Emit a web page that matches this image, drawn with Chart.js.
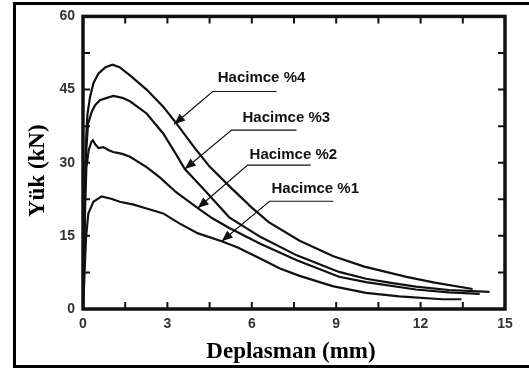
<!DOCTYPE html>
<html>
<head>
<meta charset="utf-8">
<script src="https://cdn.jsdelivr.net/npm/chart.js@4.4.0/dist/chart.umd.min.js"></script>
<style>
  html, body { margin: 0; padding: 0; background: #fff; }
  #wrap { position: relative; width: 529px; height: 368px; overflow: hidden; }
  #frame { position: absolute; left: 13px; top: 2px; width: 600px; height: 366px;
           box-sizing: border-box; border: 3px solid #000; }
  #c { position: absolute; left: 0; top: 0; }
</style>
</head>
<body>
<div id="wrap">
  <div id="frame"></div>
  <canvas id="c" width="529" height="368"></canvas>
</div>
<script>
// Load (kN) vs displacement (mm)
const disp4 = [0, 0.04, 0.08, 0.12, 0.16, 0.25, 0.37, 0.55, 0.8, 1.05, 1.3, 1.67, 2.26, 2.85, 3.3, 4.0, 4.5, 5.2, 6.0, 6.6, 7.7, 8.9, 10.0, 11.5, 12.5, 13.85];
const load4 = [0, 14, 28, 36, 40, 43.5, 46.3, 48.3, 49.6, 50.1, 49.6, 47.9, 45.0, 41.5, 38.2, 32.8, 29.2, 25.2, 20.8, 17.8, 14.0, 10.8, 8.7, 6.6, 5.4, 4.1];

const disp3 = [0, 0.04, 0.08, 0.12, 0.18, 0.31, 0.43, 0.6, 0.85, 1.08, 1.4, 1.67, 2.26, 2.85, 3.3, 3.62, 4.3, 5.2, 6.3, 7.6, 9.1, 10.06, 11.0, 11.83, 13.0, 14.45];
const load3 = [0, 12, 25, 33, 38, 40.4, 41.8, 42.8, 43.3, 43.7, 43.3, 42.6, 40.1, 36.0, 31.8, 28.7, 24.5, 18.8, 14.8, 11.0, 7.6, 6.2, 5.3, 4.6, 3.9, 3.5];

const disp2 = [0, 0.04, 0.08, 0.12, 0.2, 0.3, 0.35, 0.43, 0.55, 0.72, 0.9, 1.07, 1.4, 1.67, 2.26, 2.73, 3.3, 4.08, 4.6, 5.2, 6.3, 7.6, 9.1, 10.06, 11.83, 13.0, 14.1];
const load2 = [0, 10, 22, 29, 32.5, 34.3, 34.6, 33.8, 33.0, 33.2, 32.6, 32.2, 31.8, 31.2, 29.1, 27.0, 24.0, 20.7, 18.6, 16.6, 13.4, 10.0, 6.6, 5.5, 4.0, 3.4, 3.1];

const disp1 = [0, 0.04, 0.08, 0.11, 0.19, 0.37, 0.66, 1.0, 1.31, 1.8, 2.26, 2.85, 3.44, 4.09, 4.93, 5.5, 6.28, 7.0, 7.7, 8.87, 10.06, 11.24, 12.77, 13.45];
const load1 = [0, 5, 11, 14.8, 19.6, 22.0, 23.1, 22.6, 22.0, 21.4, 20.6, 19.6, 17.5, 15.5, 13.9, 12.6, 10.4, 8.3, 6.8, 4.7, 3.3, 2.6, 2.0, 2.0];

// callout labels (data units): text anchor, underline, arrow tip
const noteText  = ['Hacimce %4', 'Hacimce %3', 'Hacimce %2', 'Hacimce %1'];
const noteX     = [4.79, 5.67, 5.92, 6.70];
const noteY     = [47.3, 39.1, 31.7, 24.6];
const lineX0    = [4.61, 5.28, 5.85, 6.63];
const lineX1    = [6.88, 7.59, 8.09, 8.90];
const lineY     = [44.6, 36.7, 29.5, 22.1];
const tipX      = [3.24, 3.62, 4.08, 4.93];
const tipY      = [37.9, 28.7, 20.7, 13.9];

const xTitle = 'Deplasman (mm)';
const yTitle = 'Yük (kN)';

function pts(xs, ys) {
  return xs.map((x, i) => ({ x: x, y: ys[i] }));
}

function isMajor(v, step) {
  return Math.abs(v / step - Math.round(v / step)) < 1e-6;
}

const decor = {
  id: 'decor',
  afterDatasetsDraw(chart) {
    const { ctx, chartArea: a, scales: { x, y } } = chart;
    ctx.save();
    ctx.strokeStyle = '#111';
    ctx.fillStyle = '#111';

    // plot frame
    ctx.lineWidth = 3.5;
    ctx.strokeRect(a.left, a.top, a.right - a.left, a.bottom - a.top);

    // inward ticks on all four sides
    ctx.lineWidth = 2;
    ctx.beginPath();
    x.ticks.forEach(t => {
      const px = x.getPixelForValue(t.value);
      if (px <= a.left + 1 || px >= a.right - 1) return;
      ctx.moveTo(px, a.bottom); ctx.lineTo(px, a.bottom - 7);
      ctx.moveTo(px, a.top); ctx.lineTo(px, a.top + 7);
    });
    y.ticks.forEach(t => {
      const py = y.getPixelForValue(t.value);
      if (py <= a.top + 1 || py >= a.bottom - 1) return;
      ctx.moveTo(a.left, py); ctx.lineTo(a.left + 7, py);
      ctx.moveTo(a.right, py); ctx.lineTo(a.right - 7, py);
    });
    ctx.stroke();

    // callouts
    ctx.font = 'bold 15px "Liberation Sans", Arial, sans-serif';
    ctx.textBaseline = 'middle';
    ctx.textAlign = 'left';
    ctx.lineWidth = 1.2;
    noteText.forEach((txt, i) => {
      ctx.fillStyle = '#111';
      ctx.fillText(txt, x.getPixelForValue(noteX[i]), y.getPixelForValue(noteY[i]));
      const x0 = x.getPixelForValue(lineX0[i]);
      const x1 = x.getPixelForValue(lineX1[i]);
      const ly = y.getPixelForValue(lineY[i]);
      const tx = x.getPixelForValue(tipX[i]);
      const ty = y.getPixelForValue(tipY[i]);
      ctx.beginPath();
      ctx.moveTo(x1, ly); ctx.lineTo(x0, ly); ctx.lineTo(tx, ty);
      ctx.stroke();
      // arrow head
      const ang = Math.atan2(ty - ly, tx - x0);
      const len = 11, half = 4.5;
      ctx.beginPath();
      ctx.moveTo(tx, ty);
      ctx.lineTo(tx - len * Math.cos(ang) + half * Math.sin(ang), ty - len * Math.sin(ang) - half * Math.cos(ang));
      ctx.lineTo(tx - len * Math.cos(ang) - half * Math.sin(ang), ty - len * Math.sin(ang) + half * Math.cos(ang));
      ctx.closePath();
      ctx.fill();
    });

    // axis titles
    ctx.fillStyle = '#000';
    ctx.font = 'bold 23px "Liberation Serif", "Times New Roman", serif';
    ctx.textAlign = 'center';
    ctx.fillText(xTitle, (a.left + a.right) / 2 - 3, a.bottom + 43);
    ctx.translate(a.left - 45, (a.top + a.bottom) / 2 + 8);
    ctx.rotate(-Math.PI / 2);
    ctx.fillText(yTitle, 0, 0);
    ctx.restore();
  }
};

const series = [
  { label: 'Hacimce %4', data: pts(disp4, load4) },
  { label: 'Hacimce %3', data: pts(disp3, load3) },
  { label: 'Hacimce %2', data: pts(disp2, load2) },
  { label: 'Hacimce %1', data: pts(disp1, load1) }
];

const tickFont = { family: '"Liberation Sans", Arial, sans-serif', size: 14, weight: 'bold' };

new Chart(document.getElementById('c'), {
  type: 'scatter',
  data: {
    datasets: series.map(s => ({
      label: s.label,
      data: s.data,
      showLine: true,
      borderColor: '#111',
      borderWidth: 2.2,
      pointRadius: 0,
      tension: 0
    }))
  },
  options: {
    responsive: false,
    animation: false,
    layout: { padding: { top: 16, right: 24, left: 28, bottom: 0 } },
    plugins: { legend: { display: false }, tooltip: { enabled: false } },
    scales: {
      x: {
        type: 'linear', min: 0, max: 15,
        grid: { display: false, drawTicks: false },
        border: { display: false },
        ticks: {
          stepSize: 1.5, autoSkip: false, maxRotation: 0, padding: 7,
          color: '#333', font: tickFont,
          callback: v => isMajor(v, 3) ? String(Math.round(v)) : ''
        },
        afterFit: s => { s.height = 59; }
      },
      y: {
        type: 'linear', min: 0, max: 60,
        grid: { display: false, drawTicks: false },
        border: { display: false },
        ticks: {
          stepSize: 7.5, autoSkip: false, padding: 8,
          color: '#333', font: tickFont,
          callback: v => isMajor(v, 15) ? String(Math.round(v)) : ''
        },
        afterFit: s => { s.width = 55; }
      }
    }
  },
  plugins: [decor]
});
</script>
</body>
</html>
